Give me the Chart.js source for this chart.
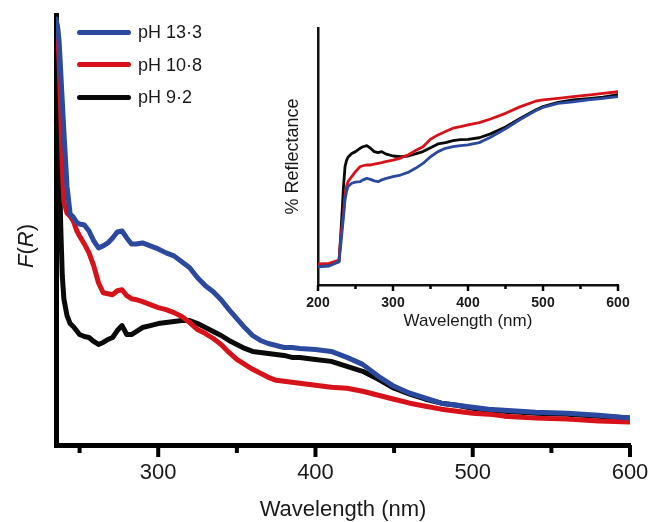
<!DOCTYPE html>
<html>
<head>
<meta charset="utf-8">
<script src="https://cdn.jsdelivr.net/npm/chart.js@4.4.1/dist/chart.umd.min.js"></script>
<style>
html,body{margin:0;padding:0;background:#fff;}
#wrap{position:relative;width:649px;height:522px;overflow:hidden;font-family:"Liberation Sans",Arial,sans-serif;color:#1a1a1a;}
#main{position:absolute;left:0;top:0;}
#inset{position:absolute;left:270px;top:20px;}
.legline{position:absolute;left:77px;width:54px;height:5px;border-radius:3px;}
.legtxt{position:absolute;left:138px;font-size:18px;line-height:20px;white-space:nowrap;}
#ytitle{position:absolute;left:26px;top:246px;font-size:22px;white-space:nowrap;transform:translate(-50%,-50%) rotate(-90deg);}
</style>
</head>
<body>
<div id="wrap">
  <canvas id="main" width="649" height="522"></canvas>
  <canvas id="inset" width="370" height="320"></canvas>
  <div id="legend"></div>
  <div id="ytitle"><i>F</i>(<i>R</i>)</div>
</div>
<script>
// ---------- data ----------
const seriesNames = ['pH 13\u00B73', 'pH 10\u00B78', 'pH 9\u00B72'];
const seriesColors = ['#2b4a9f', '#d8121b', '#0a0a0a'];

// main panel: F(R) (arbitrary units) vs wavelength (nm)
const mainWavelength = [235,236,237,238,239,240,242,244,246,248,250,
  253,256,259,262,265,268,271,274,277,280,283,286,
  290,295,300,305,310,315,320,325,330,335,340,345,350,355,360,365,370,375,380,385,390,
  400,410,420,430,440,450,460,470,480,490,500,510,520,
  540,560,580,600];
const mainPH133 = [428,420,405,375,345,315,260,232,229,224,222,
  221,215,205,198,200,203,208,214,215,208,202,202,
  203,200,197,193,190,184,178,168,160,154,146,136,127,118,110,105,102,100,98,98,97,
  96,94,88,81,69,59,52,47,42,40,38,36,35,
  33,32,30,27];
const mainPH108 = [425,420,385,335,280,245,233,230,225,216,210,
  202,193,180,163,153,152,151,155,156,150,147,146,
  144,141,138,136,133,129,123,116,112,107,101,93,86,81,76,72,68,65,64,63,62,
  60,58,57,54,50,46,42,39,36,34,32,31,29,
  27,26,24,23];
const mainPH92 = [430,365,295,220,170,147,130,122,119,115,111,
  109,108,104,101,103,106,108,115,120,111,111,114,
  118,120,122,123,124,125,125,122,118,114,110,105,101,97,94,93,92,91,90,88,88,
  86,84,79,74,66,57,51,46,42,40,37,35,34,
  32,31,29,27];
const mainTicks = [250,300,350,400,450,500,550,600];

// inset: % Reflectance (arbitrary units) vs wavelength (nm)
const insetWavelength = [200,215,228,231,234,236,238,240,245,250,256,260,265,270,275,280,285,290,
  300,310,320,330,340,350,360,370,380,390,400,415,430,450,470,490,500,520,540,560,580,600];
const insetPH133 = [7.1,7.4,9.1,17.5,26.6,33.1,36.3,38.3,39.6,40.0,40.2,40.9,41.5,41.1,40.5,40.2,40.9,41.4,
  42.2,42.8,43.8,45.4,47.3,49.9,51.9,53.2,53.8,54.2,54.5,55.4,57.5,60.8,64.5,67.8,69.1,70.7,71.3,72.0,72.6,73.3];
const insetPH108 = [8.2,8.4,9.7,20.1,27.9,35.0,38.3,40.2,42.2,44.1,46.0,46.4,46.7,46.7,47.0,47.3,47.6,48.0,
  48.6,49.4,50.6,52.3,53.8,56.7,58.4,59.7,61.0,61.6,62.3,63.2,64.6,66.8,69.4,71.5,72.0,72.6,73.3,73.9,74.6,75.2];
const insetPH92 = [7.8,7.8,9.1,22.7,38.3,46.0,48.4,49.7,51.2,51.9,53.2,53.8,54.2,53.2,51.9,51.5,51.9,51.0,
  50.2,49.9,50.2,51.0,51.9,53.4,54.9,55.4,56.2,56.6,56.7,57.3,58.8,61.5,64.9,68.1,69.4,71.1,72.0,72.5,73.1,74.1];
const insetTicks = [200,250,300,350,400,450,500,550,600];

// ---------- helpers ----------
const FONT = '"Liberation Sans", Arial, sans-serif';
const TEXT = '#1a1a1a';

const tickMarks = {
  id: 'tickMarks',
  afterDraw(chart) {
    const o = chart.options.plugins.tickMarks;
    const s = chart.scales.x, ctx = chart.ctx, b = chart.chartArea.bottom;
    ctx.save();
    ctx.strokeStyle = '#000';
    ctx.lineWidth = o.width;
    s.ticks.forEach(t => {
      const px = s.getPixelForValue(t.value);
      const len = (t.value % 100 === 0) ? o.major : o.minor;
      ctx.beginPath();
      ctx.moveTo(px, b);
      ctx.lineTo(px, b + len);
      ctx.stroke();
    });
    ctx.restore();
  }
};

function makeSets(xs, ys, width) {
  return ys.map((arr, i) => ({
    label: seriesNames[i],
    data: xs.map((x, j) => ({x: x, y: arr[j]})),
    borderColor: seriesColors[i],
    backgroundColor: seriesColors[i],
    borderWidth: width,
    pointRadius: 0,
    tension: 0,
    fill: false,
    borderJoinStyle: 'round',
    borderCapStyle: 'round'
  }));
}

// ---------- main chart ----------
new Chart(document.getElementById('main'), {
  type: 'line',
  data: {datasets: makeSets(mainWavelength, [mainPH133, mainPH108, mainPH92], 5)},
  options: {
    responsive: false,
    animation: false,
    layout: {padding: {left: 56, right: 19, top: 15, bottom: 0}},
    plugins: {legend: {display: false}, tooltip: {enabled: false}, tickMarks: {major: 12, minor: 8, width: 4}},
    scales: {
      x: {
        type: 'linear', min: 235, max: 600,
        afterBuildTicks: s => { s.ticks = mainTicks.map(v => ({value: v})); },
        afterFit: s => { s.height = 77; s.paddingLeft = 0; s.paddingRight = 0; },
        grid: {display: false, drawTicks: false},
        border: {display: true, color: '#000', width: 5},
        ticks: {padding: 15, autoSkip: false, maxRotation: 0, color: TEXT,
          font: {family: FONT, size: 22},
          callback: v => (v % 100 === 0 ? String(v) : '')},
        title: {display: true, text: 'Wavelength (nm)', color: TEXT,
          font: {family: FONT, size: 22, lineHeight: 1.0}, padding: {top: 0, bottom: 1}}
      },
      y: {
        type: 'linear', min: 0, max: 432,
        afterFit: s => { s.width = 0; },
        grid: {display: false, drawTicks: false},
        border: {display: true, color: '#000', width: 5},
        ticks: {display: false}
      }
    }
  },
  plugins: [tickMarks]
});

// ---------- inset chart ----------
new Chart(document.getElementById('inset'), {
  type: 'line',
  data: {datasets: makeSets(insetWavelength, [insetPH133, insetPH108, insetPH92], 2.8)},
  options: {
    responsive: false,
    animation: false,
    layout: {padding: {left: 0, right: 22, top: 8, bottom: 0}},
    plugins: {legend: {display: false}, tooltip: {enabled: false}, tickMarks: {major: 6, minor: 4, width: 2.5}},
    scales: {
      x: {
        type: 'linear', min: 200, max: 600,
        afterBuildTicks: s => { s.ticks = insetTicks.map(v => ({value: v})); },
        afterFit: s => { s.height = 55; s.paddingLeft = 0; s.paddingRight = 0; },
        grid: {display: false, drawTicks: false},
        border: {display: true, color: '#111', width: 2.5},
        ticks: {padding: 10, autoSkip: false, maxRotation: 0, color: TEXT,
          font: {family: FONT, size: 14, weight: 'bold'},
          callback: v => (v % 100 === 0 ? String(v) : '')},
        title: {display: true, text: 'Wavelength (nm)', color: TEXT,
          font: {family: FONT, size: 17}, padding: {top: 0, bottom: 8}}
      },
      y: {
        type: 'linear', min: 0, max: 100,
        afterFit: s => { s.width = 48; },
        grid: {display: false, drawTicks: false},
        border: {display: true, color: '#111', width: 2.5},
        ticks: {display: false},
        title: {display: true, text: '% Reflectance', color: TEXT,
          font: {family: FONT, size: 18}, padding: {top: 12, bottom: 0}}
      }
    }
  },
  plugins: [tickMarks]
});

// ---------- legend (HTML, real text) ----------
const legend = document.getElementById('legend');
const legendY = [32, 64.5, 97];
seriesNames.forEach((name, i) => {
  const ln = document.createElement('div');
  ln.className = 'legline';
  ln.style.top = (legendY[i] - 2.5) + 'px';
  ln.style.background = seriesColors[i];
  legend.appendChild(ln);
  const tx = document.createElement('div');
  tx.className = 'legtxt';
  tx.style.top = (legendY[i] - 10) + 'px';
  tx.style.color = TEXT;
  tx.textContent = name;
  legend.appendChild(tx);
});
</script>
</body>
</html>
